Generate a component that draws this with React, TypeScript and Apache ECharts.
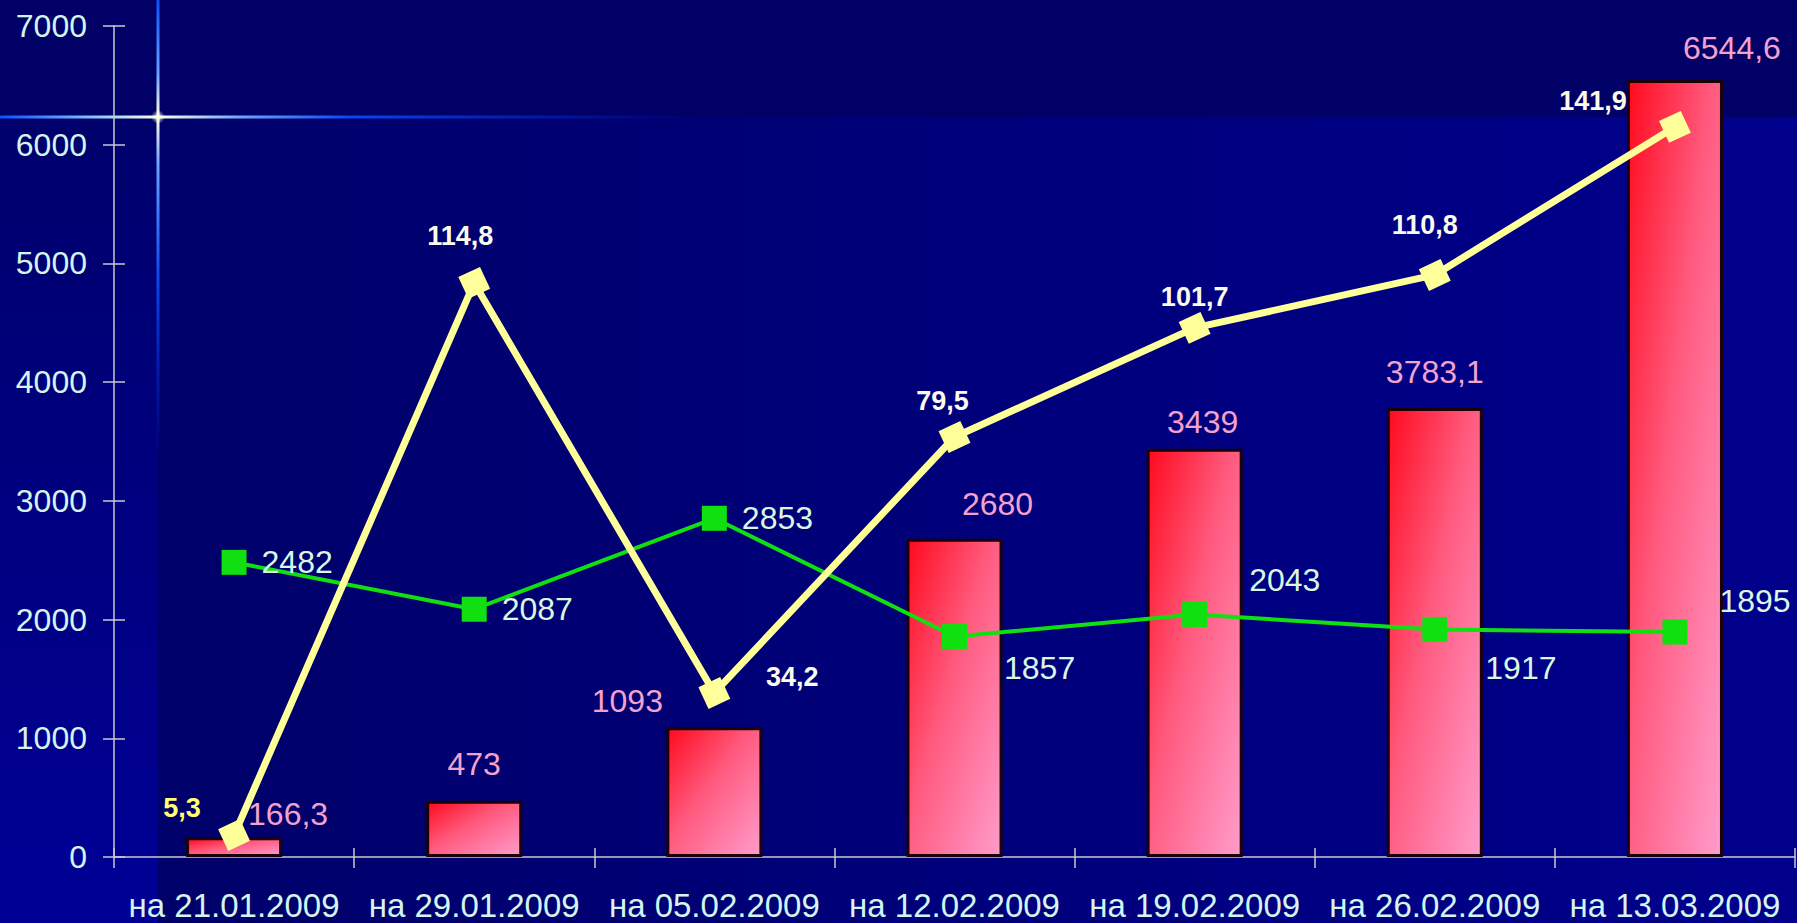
import React, { useEffect, useRef } from "react";
import * as echarts from "echarts";

const categories = [
  "на 21.01.2009",
  "на 29.01.2009",
  "на 05.02.2009",
  "на 12.02.2009",
  "на 19.02.2009",
  "на 26.02.2009",
  "на 13.03.2009",
];
const barValues = [166.3, 473, 1093, 2680, 3439, 3783.1, 6544.6];
const greenValues = [2482, 2087, 2853, 1857, 2043, 1917, 1895];
const yellowValues = [185, 4836, 1382, 3538, 4457, 4903, 6150];
const yellowLabels = ["5,3", "114,8", "34,2", "79,5", "101,7", "110,8", "141,9"];
const yTicks = { min: 0, max: 7000, interval: 1000 };

const barLabelOffsets = [[54, 3], [0, -11], [-87, 0], [43, -9], [8, -1], [0, -10], [57, -6]];
const greenLabelOffsets = [[0, 0], [0, 0], [0, 0], [22, 31], [27, -34], [23, 39], [17, -31]];
const yellowLabelOffsets = [[-52, 7], [-14, -12], [78, 19], [-12, -2], [0, 4], [-10, -15], [-82, 9]];

const FONT = "'Liberation Sans', Arial, sans-serif";
const fmt = (v: number) => String(v).replace(".", ",");
const AXIS_COLOR = "#c8c8d0";

export default function App() {
  const ref = useRef<HTMLDivElement>(null);
  useEffect(() => {
    if (!ref.current) return;
    const chart = echarts.init(ref.current, null, { renderer: "svg" });
    const W = 1797;
    const H = 923;
    const option: any = {
      animation: false,
      backgroundColor: "#000070",
      textStyle: { fontFamily: FONT },
      graphic: [
        { type: "rect", silent: true, z: -10, shape: { x: 0, y: 0, width: W, height: 117 }, style: { fill: "#000066" } },
        {
          type: "rect", silent: true, z: -10,
          shape: { x: 0, y: 117, width: 158, height: H - 117 },
          style: { fill: new echarts.graphic.LinearGradient(0, 0, 0, 1, [
            { offset: 0, color: "#00006c" },
            { offset: 1, color: "#000096" },
          ]) },
        },
        {
          type: "rect", silent: true, z: -10,
          shape: { x: 158, y: 117, width: W - 158, height: H - 117 },
          style: { fill: new echarts.graphic.LinearGradient(0, 0, 1, 0, [
            { offset: 0, color: "#00006a" },
            { offset: 1, color: "#00008c" },
          ]) },
        },
        {
          type: "rect", silent: true, z: -5,
          shape: { x: 0, y: 115.5, width: 700, height: 3 },
          style: { fill: new echarts.graphic.LinearGradient(0, 0, 1, 0, [
            { offset: 0, color: "#0a50ff" },
            { offset: 0.14, color: "#8cc8ff" },
            { offset: 0.226, color: "#ffffe0" },
            { offset: 0.34, color: "#70a8ff" },
            { offset: 0.5, color: "#0a46f0" },
            { offset: 1, color: "rgba(0,40,220,0)" },
          ]) },
        },
        {
          type: "rect", silent: true, z: -5,
          shape: { x: 156.5, y: 0, width: 3, height: 460 },
          style: { fill: new echarts.graphic.LinearGradient(0, 0, 0, 1, [
            { offset: 0, color: "#0a50ff" },
            { offset: 0.16, color: "#6aa0ff" },
            { offset: 0.254, color: "#ffffe0" },
            { offset: 0.36, color: "#6aa0ff" },
            { offset: 0.6, color: "#0a48f0" },
            { offset: 1, color: "rgba(0,40,220,0)" },
          ]) },
        },
        {
          type: "circle", silent: true, z: -4,
          shape: { cx: 158, cy: 117, r: 7 },
          style: { fill: new echarts.graphic.RadialGradient(0.5, 0.5, 0.5, [
            { offset: 0, color: "rgba(255,255,235,1)" },
            { offset: 1, color: "rgba(255,255,235,0)" },
          ]) },
        },
      ],
      grid: { left: 114, right: 2, top: 26, bottom: 66, containLabel: false },
      xAxis: [
        {
          type: "category",
          data: categories,
          boundaryGap: true,
          axisLine: { show: true, lineStyle: { color: AXIS_COLOR, width: 1.5 } },
          axisTick: { show: true, length: 11, lineStyle: { color: AXIS_COLOR, width: 1.5 } },
          axisLabel: {
            color: "#d4f4f0",
            fontSize: 33,
            lineHeight: 32,
            fontFamily: FONT,
            margin: 32,
            interval: 0,
          },
          splitLine: { show: false },
        },
        {
          type: "category",
          data: categories,
          position: "bottom",
          boundaryGap: true,
          axisLine: { show: false },
          axisTick: { show: true, inside: true, length: 9, lineStyle: { color: AXIS_COLOR, width: 1.5 } },
          axisLabel: { show: false },
          splitLine: { show: false },
        },
      ],
      yAxis: [
        {
          type: "value",
          min: yTicks.min,
          max: yTicks.max,
          interval: yTicks.interval,
          axisLine: { show: true, lineStyle: { color: AXIS_COLOR, width: 1.5 } },
          axisTick: { show: true, length: 11, lineStyle: { color: AXIS_COLOR, width: 1.5 } },
          axisLabel: {
            color: "#d4f4f0",
            fontSize: 32,
            fontFamily: FONT,
            margin: 27,
            formatter: (v: number) => String(v),
          },
          splitLine: { show: false },
        },
        {
          type: "value",
          position: "left",
          min: yTicks.min,
          max: yTicks.max,
          interval: yTicks.interval,
          axisLine: { show: false },
          axisTick: { show: true, inside: true, length: 11, lineStyle: { color: AXIS_COLOR, width: 1.5 } },
          axisLabel: { show: false },
          splitLine: { show: false },
        },
      ],
      series: [
        {
          type: "bar",
          z: 2,
          barWidth: "40%",
          data: barValues.map((v, i) => ({
            value: v,
            label: { offset: barLabelOffsets[i] },
          })),
          itemStyle: {
            borderColor: "#1a0008",
            borderWidth: 3,
            color: new echarts.graphic.LinearGradient(0, 0, 1, 1, [
              { offset: 0, color: "#ff0a1e" },
              { offset: 0.45, color: "#ff5a7e" },
              { offset: 1, color: "#ff9ccc" },
            ]),
          },
          label: {
            show: true,
            position: "top",
            distance: 10,
            color: "#f4a2cc",
            fontSize: 32,
            fontFamily: FONT,
            formatter: (p: any) => fmt(p.value),
          },
        },
        {
          type: "line",
          z: 3,
          data: greenValues.map((v, i) => ({ value: v, label: { offset: greenLabelOffsets[i] } })),
          symbol: "rect",
          symbolSize: 25,
          lineStyle: { color: "#10e010", width: 4 },
          itemStyle: { color: "#10e010" },
          label: {
            show: true,
            position: "right",
            distance: 15,
            color: "#d8f8e4",
            fontSize: 32,
            fontFamily: FONT,
            formatter: (p: any) => String(p.value),
          },
        },
        {
          type: "line",
          z: 4,
          data: yellowValues.map((v, i) => ({
            value: v,
            label: {
              offset: yellowLabelOffsets[i],
              color: i === 0 ? "#ffff70" : "#fbfbec",
            },
          })),
          symbol: "rect",
          symbolSize: 24,
          symbolRotate: 25,
          lineStyle: { color: "#ffff99", width: 7 },
          itemStyle: { color: "#ffff99" },
          label: {
            show: true,
            position: "top",
            distance: 5,
            fontSize: 27,
            fontWeight: "bold",
            fontFamily: FONT,
            formatter: (p: any) => yellowLabels[p.dataIndex],
          },
        },
      ],
    };
    chart.setOption(option);
    return () => chart.dispose();
  }, []);
  return (
    <div
      ref={ref}
      style={{ position: "absolute", left: 0, top: 0, width: 1797, height: 923 }}
    />
  );
}
